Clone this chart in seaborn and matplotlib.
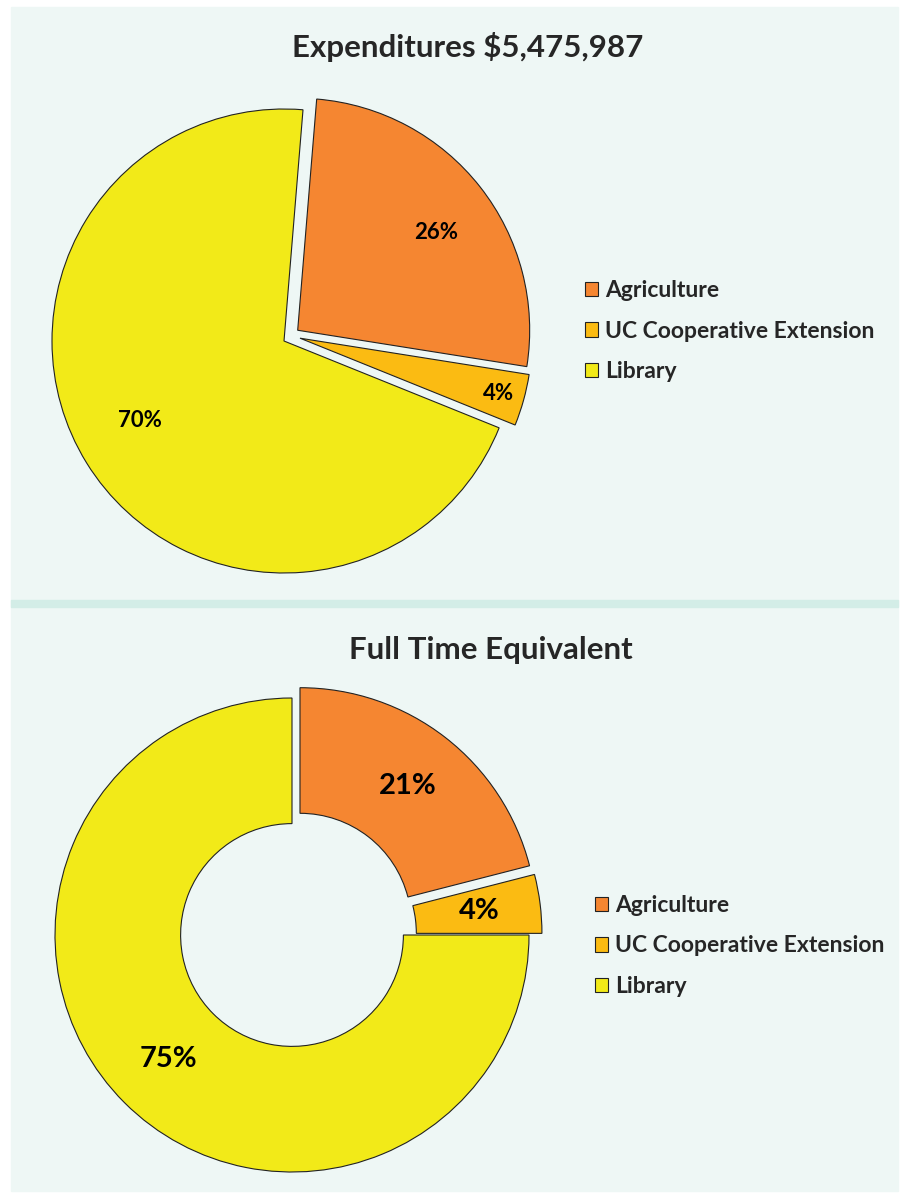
import matplotlib
matplotlib.use("Agg")
import matplotlib.pyplot as plt
from matplotlib.patches import Rectangle
import numpy as np
import seaborn as sns

# data
categories = ["Agriculture", "UC Cooperative Extension", "Library"]
exp_share = [26.2, 3.6, 70.2]
fte_share = [21, 4, 75]
exp_title = "Expenditures $5,475,987"
fte_title = "Full Time Equivalent"

colors = ["#F58631", "#FBBB12", "#F2EA18"]
bg = "#EEF7F5"

sns.set_theme(style="white")
plt.rcParams["font.family"] = ["Lato", "DejaVu Sans"]

W, H = 900, 1194
fig = plt.figure(figsize=(W / 100, H / 100), dpi=100)
fig.patch.set_facecolor("white")

# panel backgrounds and separator band (behind the axes)
for y0, y1, c in [(7, 600, bg), (600, 1191, bg), (600, 607, "#D3EDE7")]:
    fig.patches.append(Rectangle((11 / W, 1 - y1 / H), 887 / W, (y1 - y0) / H,
                                 transform=fig.transFigure, color=c, zorder=-5))


def pie_axes(cx, cy, r, half=310):
    ax = fig.add_axes([(cx - half) / W, 1 - (cy + half) / H, 2 * half / W, 2 * half / H])
    ax.axis("off")
    ax.patch.set_alpha(0)
    return ax, half / r


legend_kw = dict(frameon=False, prop=dict(weight="bold", size=16.5),
                 handlelength=0.6, handleheight=0.6, handletextpad=0.3, labelspacing=0.85)

# top: exploded pie
ax1, k1 = pie_axes(284, 341, 232)
wedges1, _, pct1 = ax1.pie(exp_share, colors=colors, startangle=85.3, counterclock=False,
                           explode=[0.075, 0, 0], autopct="%.0f%%",
                           wedgeprops=dict(edgecolor="#222222", linewidth=0.8),
                           textprops=dict(fontsize=16, fontweight="bold", color="black"))
ax1.set_xlim(-k1, k1)
ax1.set_ylim(-k1, k1)
# the small slice is pulled out a bit off its bisector, as in the source
uc_shift = 0.07 * np.array([np.cos(np.deg2rad(10)), np.sin(np.deg2rad(10))])
wedges1[1].set_center(tuple(uc_shift))
for w, t, d, da in zip(wedges1, pct1, [0.73, 0.89, 0.71], [-3, 0, -3]):
    th = np.deg2rad((w.theta1 + w.theta2) / 2 + da)
    cx, cy = w.center
    t.set_position((cx + d * np.cos(th), cy + d * np.sin(th)))

fig.text(468 / W, 1 - 47 / H, exp_title, ha="center", va="center",
         fontsize=22.5, fontweight="bold", color="#262626")
fig.legend(wedges1, categories, loc="center left", bbox_to_anchor=(564 / W, 1 - 331 / H),
           **legend_kw)

# bottom: exploded donut
ax2, k2 = pie_axes(292, 935, 237)
wedges2, _, pct2 = ax2.pie(fte_share, colors=colors, startangle=90, counterclock=False,
                           explode=[0.055, 0.055, 0], autopct="%.0f%%", pctdistance=0.74,
                           wedgeprops=dict(width=0.53, edgecolor="#222222", linewidth=0.8),
                           textprops=dict(fontsize=21, fontweight="bold", color="black"))
ax2.set_xlim(-k2, k2)
ax2.set_ylim(-k2, k2)

fig.text(491 / W, 1 - 650 / H, fte_title, ha="center", va="center",
         fontsize=22.5, fontweight="bold", color="#262626")
fig.legend(wedges2, categories, loc="center left", bbox_to_anchor=(574 / W, 1 - 946 / H),
           **legend_kw)

fig.savefig("out.png", dpi=100)
